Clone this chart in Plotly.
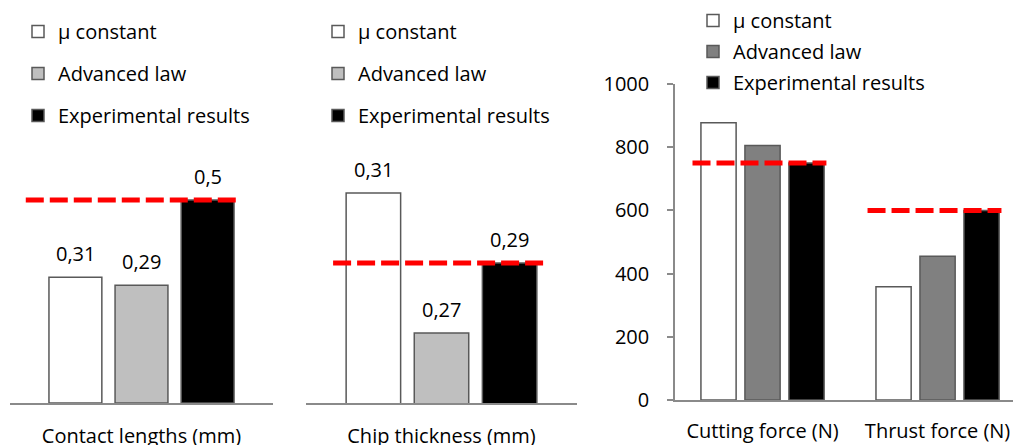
import plotly.graph_objects as go

# ---- data ----
series_names = ["\u00b5 constant", "Advanced law", "Experimental results"]
cat_contact = ["Contact lengths (mm)"]
cat_chip = ["Chip thickness (mm)"]
cat_force = ["Cutting force (N)", "Thrust force (N)"]

contact_mu = [0.31]
contact_adv = [0.29]
contact_exp = [0.5]

chip_mu = [0.31]
chip_adv = [0.27]
chip_exp = [0.29]

force_mu = [877, 358]
force_adv = [805, 455]
force_exp = [750, 600]

force_ticks = [0, 200, 400, 600, 800, 1000]

# ---- styles ----
W, H = 1013, 445
FONT = "Open Sans"
FS = 20
BARGAP = 0.246
BARGROUPGAP = 0.2
OUTLINE = "#595959"
AXIS_GRAY = "#8a8a8a"
RED = "#ff0000"
fills_small = ["#ffffff", "#bfbfbf", "#000000"]
fills_force = ["#ffffff", "#808080", "#000000"]


def px_x(p):
    return p / W


def px_y(p):
    return 1 - p / H


fig = go.Figure()

panels = [
    dict(cats=cat_contact, vals=[contact_mu, contact_adv, contact_exp], fills=fills_small,
         xa="x", ya="y", leg="legend", labels=True, ext=(-0.44, 0.36)),
    dict(cats=cat_chip, vals=[chip_mu, chip_adv, chip_exp], fills=fills_small,
         xa="x2", ya="y2", leg="legend2", labels=True, ext=(-0.40, 0.375)),
    dict(cats=cat_force, vals=[force_mu, force_adv, force_exp], fills=fills_force,
         xa="x3", ya="y3", leg="legend3", labels=False, ext=(-0.40, 0.365)),
]

annotations = []
shapes = []
for pi, p in enumerate(panels):
    for j, (name, vals, fill) in enumerate(zip(series_names, p["vals"], p["fills"])):
        fig.add_trace(go.Bar(
            x=p["cats"], y=vals, name=name,
            marker=dict(color=fill, line=dict(color=OUTLINE, width=1.5)),
            xaxis=p["xa"], yaxis=p["ya"], legend=p["leg"],
            legendgroup=f"p{pi}s{j}", hoverinfo="skip",
        ))
        if p["labels"]:
            slot = (1 - BARGAP) / 3
            for ci, v in enumerate(vals):
                annotations.append(dict(
                    x=ci + (j - 1) * slot, y=v, xref=p["xa"], yref=p["ya"],
                    text=f"{v:g}".replace(".", ","), showarrow=False,
                    yanchor="bottom", yshift=8,
                    font=dict(family=FONT, size=FS, color="#000000"),
                ))
    # red dashed reference lines at experimental values
    for ci, v in enumerate(p["vals"][2]):
        shapes.append(dict(
            type="line", xref=p["xa"], yref=p["ya"],
            x0=ci + p["ext"][0], x1=ci + p["ext"][1], y0=v, y1=v,
            line=dict(color=RED, width=5, dash="18px,6px"),
        ))

xcommon = dict(type="category", showline=True, linecolor=AXIS_GRAY, linewidth=1.5,
               ticks="", showgrid=False, zeroline=False, ticklabelstandoff=14,
               automargin=False,
               tickfont=dict(family=FONT, size=FS, color="#000000"), fixedrange=True)

legcommon = dict(xanchor="left", yanchor="top", bgcolor="rgba(0,0,0,0)", borderwidth=0,
                 traceorder="grouped", font=dict(family=FONT, size=FS, color="#000000"))

fig.update_layout(
    template="none",
    width=W, height=H,
    margin=dict(l=0, r=0, t=0, b=0, pad=0, autoexpand=False),
    paper_bgcolor="white", plot_bgcolor="white",
    barmode="group", bargap=BARGAP, bargroupgap=BARGROUPGAP,
    separators=", ",
    font=dict(family=FONT, size=FS, color="#000000"),
    xaxis=dict(xcommon, domain=[px_x(10), px_x(273)], anchor="y", range=[-0.5, 0.5]),
    yaxis=dict(domain=[px_y(403), px_y(84)], range=[0, 0.7857], visible=False,
               anchor="x", automargin=False),
    xaxis2=dict(xcommon, domain=[px_x(306), px_x(577)], anchor="y2", range=[-0.5, 0.5]),
    yaxis2=dict(domain=[px_y(403), px_y(84)], range=[0.25, 0.3411], visible=False,
                anchor="x2", automargin=False),
    xaxis3=dict(xcommon, domain=[px_x(675), 1.0], anchor="y3", range=[-0.5, 1.431],
                ticklabelstandoff=12),
    yaxis3=dict(domain=[px_y(400), px_y(84)], range=[0, 1000], anchor="x3",
                tickvals=force_ticks, showline=True, linecolor=AXIS_GRAY, linewidth=1.5,
                ticks="outside", ticklen=6, tickcolor=AXIS_GRAY, tickwidth=1.5,
                showgrid=False, zeroline=False, ticklabelstandoff=14, automargin=False,
                tickfont=dict(family=FONT, size=FS, color="#000000"), fixedrange=True),
    legend=dict(legcommon, x=px_x(18), y=px_y(12), tracegroupgap=13),
    legend2=dict(legcommon, x=px_x(318), y=px_y(12), tracegroupgap=13),
    legend3=dict(legcommon, x=px_x(693), y=px_y(1), tracegroupgap=2),
    annotations=annotations,
    shapes=shapes,
    showlegend=True,
)

fig.write_html("out.html", config={"displayModeBar": False},
               post_script="document.body.style.margin='0';")
